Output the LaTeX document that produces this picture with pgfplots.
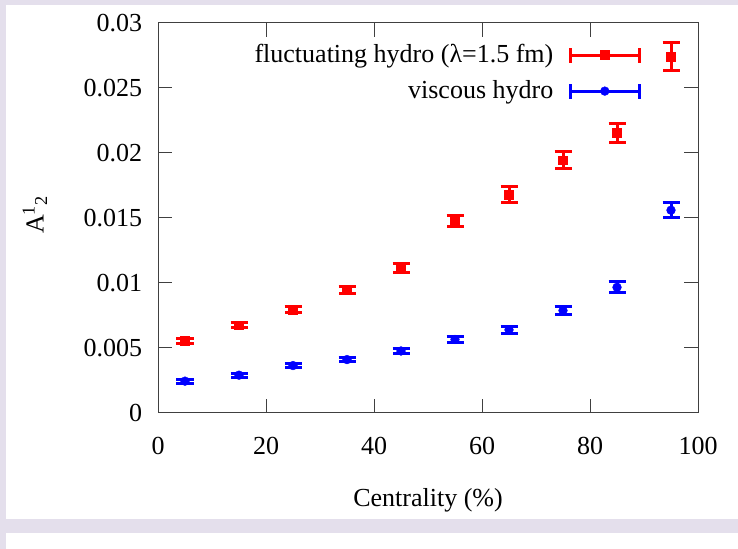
\documentclass[border=0pt]{standalone}
\usepackage{fontspec}
\setmainfont{Liberation Serif}
\usepackage{pgfplots}
\pgfplotsset{compat=1.18}
\definecolor{slide}{RGB}{228,223,236}
\begin{document}
\fontsize{26bp}{30bp}\selectfont
\begin{tikzpicture}
\fill[white] (0bp,0bp) rectangle (738bp,549bp);
\fill[slide] (0bp,544bp) rectangle (738bp,549bp);
\fill[slide] (0bp,0bp) rectangle (6bp,549bp);
\fill[slide] (6bp,16bp) rectangle (738bp,30bp);
\begin{axis}[
  scale only axis,
  width=540bp, height=390bp,
  at={(158bp,136bp)}, anchor=south west,
  xmin=0, xmax=100, ymin=0, ymax=0.03,
  xtick={0,20,40,60,80,100},
  ytick={0,0.005,0.01,0.015,0.02,0.025,0.03},
  yticklabels={0,0.005,0.01,0.015,0.02,0.025,0.03},
  scaled y ticks=false,
  tick align=inside,
  major tick length=14bp,
  axis line style={black!75, line width=1bp},
  every tick/.style={black!75, line width=1bp},
  /pgf/number format/assume math mode=true,
  ticklabel style={font=\fontsize{26bp}{30bp}\selectfont},
  xticklabel style={yshift=-15bp},
  yticklabel style={xshift=-7bp},
  xlabel={Centrality (\%)},
  ylabel={A\textsuperscript{1}\textsubscript{2}},
  label style={font=\fontsize{26bp}{30bp}\selectfont},
  xlabel style={at={(axis description cs:0.5,-0.223)}, anchor=center},
  ylabel style={at={(axis description cs:-0.228,0.508)}, anchor=center, rotate=0},
  legend plot pos=right,
  legend cell align=right,
  legend style={draw=none, fill=none, at={(axis description cs:0.900,0.957)}, anchor=north east,
    font=\fontsize{26bp}{30bp}\selectfont, row sep=10bp},
  legend image code/.code={
    \path[draw=none, fill=none] (0bp,0bp) -- (84bp,0bp);
    \draw[line width=3bp] (15bp,0bp) -- (84bp,0bp);
    \draw[line width=3bp] (15bp,-7.5bp) -- (15bp,7.5bp);
    \draw[line width=3bp] (84bp,-7.5bp) -- (84bp,7.5bp);
    \draw[mark repeat=2, mark phase=2] plot coordinates {(15bp,0bp) (49.5bp,0bp) (84bp,0bp)};
  },
]
\addplot+[red, only marks, mark=square*, mark size=4.4bp, mark options={fill=red, draw=red},
  error bars/.cd, y dir=both, y explicit,
  error bar style={line width=3bp, red},
  error mark options={rotate=90, mark size=8.5bp, line width=3bp, red}]
  coordinates {
  (5,0.00556) +- (0,0.00019)
  (15,0.00676) +- (0,0.00019)
  (25,0.00796) +- (0,0.00024)
  (35,0.00949) +- (0,0.00027)
  (45,0.01117) +- (0,0.00034)
  (55,0.01477) +- (0,0.00043)
  (65,0.01679) +- (0,0.00062)
  (75,0.01944) +- (0,0.00066)
  (85,0.02154) +- (0,0.00075)
  (95,0.02741) +- (0,0.00106)
  };
\addlegendentry{fluctuating hydro (λ=1.5 fm)}
\addplot+[blue, only marks, mark=*, mark size=4.4bp, mark options={fill=blue, draw=blue},
  error bars/.cd, y dir=both, y explicit,
  error bar style={line width=3bp, blue},
  error mark options={rotate=90, mark size=8.5bp, line width=3bp, blue}]
  coordinates {
  (5,0.00245) +- (0,0.00015)
  (15,0.00291) +- (0,0.00015)
  (25,0.00365) +- (0,0.00018)
  (35,0.00411) +- (0,0.00018)
  (45,0.00477) +- (0,0.0002)
  (55,0.00566) +- (0,0.00023)
  (65,0.0064) +- (0,0.00028)
  (75,0.00788) +- (0,0.00028)
  (85,0.00967) +- (0,0.00041)
  (95,0.0156) +- (0,0.0006)
  };
\addlegendentry{viscous hydro}
\end{axis}
\end{tikzpicture}
\end{document}
